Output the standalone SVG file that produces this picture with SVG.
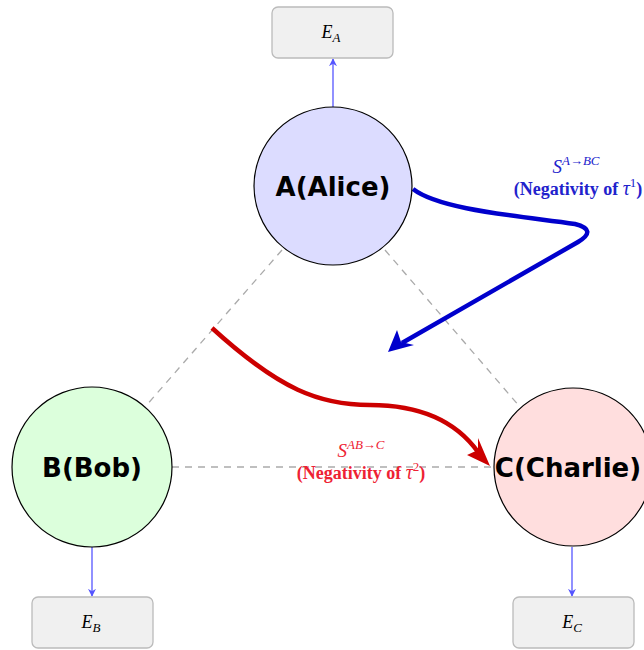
<svg xmlns="http://www.w3.org/2000/svg" width="644" height="650" viewBox="0 0 644 650">
<defs>
<style>
.node{stroke:#000;stroke-width:1.2}
.lbl{font-family:"DejaVu Sans","Liberation Sans",sans-serif;font-size:26px;font-weight:bold;fill:#000;text-anchor:middle}
.box{fill:#f0f0f0;stroke:#bbb;stroke-width:1.3}
.bl{font-family:"Liberation Serif",serif;font-style:italic;font-size:18px;text-anchor:middle;fill:#000}
.dash{stroke:#aaa;stroke-width:1.3;stroke-dasharray:7,6;fill:none}
.out{stroke:#5555ff;stroke-width:1.3;fill:none;marker-end:url(#ab)}
.math{font-family:"Liberation Serif",serif;text-anchor:middle}
</style>
<marker id="ab" viewBox="0 0 10 10" refX="9" refY="5" markerWidth="8" markerHeight="8" markerUnits="userSpaceOnUse" orient="auto"><path d="M0,0 L10,5 L0,10 L3,5 Z" fill="#5555ff"/></marker>
</defs>
<g id="connectors">
<line class="dash" x1="282" y1="250" x2="145" y2="407"/>
<line class="dash" x1="385" y1="250" x2="520" y2="407"/>
<line class="dash" x1="172" y1="467" x2="494" y2="467"/>
<line class="out" x1="333" y1="107" x2="333" y2="59"/>
<line class="out" x1="92" y1="547" x2="92" y2="596"/>
<line class="out" x1="572" y1="547" x2="572" y2="596"/>
<path d="M413,189 C440,210 520,216 575,224 Q598,230 578,242 L402,343" fill="none" stroke="#0000cc" stroke-width="4.5"/>
<path d="M388,352 L397,330 L401,342 L414,345 Z" fill="#0000cc"/>
<path d="M212,328 C280,390 320,405 370,405 C420,405 455,420 478,452" fill="none" stroke="#cc0000" stroke-width="4.5"/>
<path d="M490,466 L467,455 L478,450 L478,438 Z" fill="#cc0000"/>
</g>
<g id="A"><circle class="node" cx="333" cy="186" r="79" fill="#dcdcff"/><text class="lbl" x="333" y="196">A(Alice)</text></g>
<g id="B"><circle class="node" cx="92" cy="467" r="80" fill="#dcffdc"/><text class="lbl" x="92" y="477">B(Bob)</text></g>
<g id="C"><circle class="node" cx="573" cy="467" r="79" fill="#ffdede"/><text class="lbl" x="568" y="477">C(Charlie)</text></g>
<g id="EA"><rect class="box" x="272" y="7" width="121" height="51" rx="6"/><text class="bl" x="331" y="38">E<tspan font-size="13" dy="4">A</tspan></text></g>
<g id="EB"><rect class="box" x="32" y="597" width="121" height="51" rx="6"/><text class="bl" x="91" y="628">E<tspan font-size="13" dy="4">B</tspan></text></g>
<g id="EC"><rect class="box" x="513" y="597" width="121" height="51" rx="6"/><text class="bl" x="572" y="628">E<tspan font-size="13" dy="4">C</tspan></text></g>
<g id="labels">
<text class="math" x="576" y="173" fill="#2222cc" font-size="19"><tspan font-style="italic">S</tspan><tspan font-style="italic" font-size="13" dy="-8">A→BC</tspan></text>
<text class="math" x="578" y="195" fill="#2222cc" font-size="18" font-weight="bold">(Negativity of <tspan font-style="italic" font-weight="normal" font-size="20">τ</tspan><tspan font-size="13" dy="-8" font-weight="normal">1</tspan><tspan dy="8">)</tspan></text>
<text class="math" x="361" y="457" fill="#ee2233" font-size="19"><tspan font-style="italic">S</tspan><tspan font-style="italic" font-size="13" dy="-8">AB→C</tspan></text>
<text class="math" x="361" y="479" fill="#ee2233" font-size="18" font-weight="bold">(Negativity of <tspan font-style="italic" font-weight="normal" font-size="20">τ</tspan><tspan font-size="13" dy="-8" font-weight="normal">2</tspan><tspan dy="8">)</tspan></text>
</g>
</svg>
